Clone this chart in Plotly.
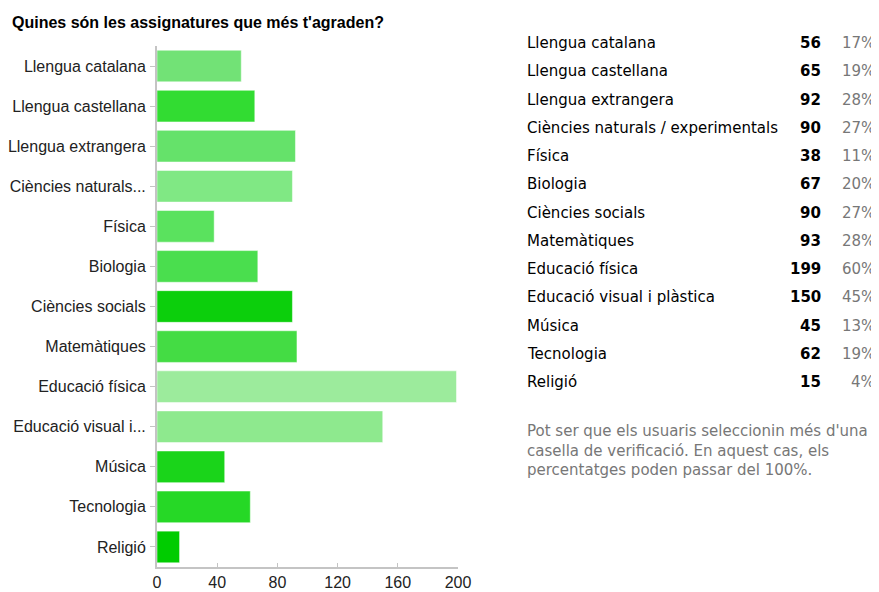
import plotly.graph_objects as go

# Dades
assignatures = ["Llengua catalana", "Llengua castellana", "Llengua extrangera",
                "Ciències naturals / experimentals", "Física", "Biologia",
                "Ciències socials", "Matemàtiques", "Educació física",
                "Educació visual i plàstica", "Música", "Tecnologia", "Religió"]
etiquetes = ["Llengua catalana", "Llengua castellana", "Llengua extrangera",
             "Ciències naturals...", "Física", "Biologia", "Ciències socials",
             "Matemàtiques", "Educació física", "Educació visual i...",
             "Música", "Tecnologia", "Religió"]
vots = [56, 65, 92, 90, 38, 67, 90, 93, 199, 150, 45, 62, 15]
percentatges = ["17%", "19%", "28%", "27%", "11%", "20%", "27%", "28%",
                "60%", "45%", "13%", "19%", "4%"]
colors = ["#72e276", "#32dc32", "#65e26a", "#80e884", "#5ae25e", "#4ade4e",
          "#0ccf0c", "#44dc44", "#9ceb9c", "#8ee98e", "#1ad41a", "#26d826",
          "#00cc00"]

FONT = "Liberation Sans"
FONT_TAULA = "DejaVu Sans"

fig = go.Figure()

# Barres
fig.add_trace(go.Bar(x=vots, y=etiquetes, orientation="h",
                     marker=dict(color=colors, line=dict(color="rgba(255,255,255,0.5)", width=1)),
                     width=0.79, showlegend=False, hoverinfo="x+y"))

# la pàgina té 8 px de marge al body
fig.update_layout(
    width=871, height=584,
    margin=dict(l=149, r=0, t=20, b=25),
    plot_bgcolor="white", paper_bgcolor="white",
    font=dict(family=FONT, size=16, color="#222222"),
    xaxis=dict(domain=[0, 301 / 722], range=[0, 200], tickvals=[0, 40, 80, 120, 160, 200],
               showgrid=False, zeroline=False, showline=True, linecolor="#c4c4c4", linewidth=2,
               ticks="inside", ticklen=4, tickcolor="#c4c4c4", automargin=False,
               tickfont=dict(size=16, color="#222222")),
    yaxis=dict(domain=[0, 521 / 539], autorange="reversed", showgrid=False, zeroline=False,
               showline=True, linecolor="#c4c4c4", linewidth=2, ticks="outside", ticklen=5,
               tickcolor="#c4c4c4", automargin=False, ticklabelstandoff=1,
               tickfont=dict(size=16, color="#222222")),
    xaxis2=dict(domain=[(510 - 157) / 722, 1], range=[510, 879], visible=False),
    yaxis2=dict(anchor="x2", range=[18.549, -0.531], visible=False),
)

# Títol
fig.add_annotation(text="<b>Quines són les assignatures que més t'agraden?</b>",
                   xref="paper", yref="paper", x=-147 / 722, y=544 / 539,
                   xanchor="left", yanchor="middle", showarrow=False,
                   font=dict(family=FONT, size=16, color="#000000"))

# Taula de resultats
fig.add_trace(go.Scatter(x=[None], y=[None], xaxis="x2", yaxis="y2", showlegend=False))
for i, (nom, n, p) in enumerate(zip(assignatures, vots, percentatges)):
    fig.add_annotation(text=nom, xref="x2", yref="y2", x=525, y=i, xanchor="left",
                       yanchor="middle", showarrow=False,
                       font=dict(family=FONT_TAULA, size=15, color="#000000"))
    fig.add_annotation(text="<b>%d</b>" % n, xref="x2", yref="y2", x=823, y=i,
                       xanchor="right", yanchor="middle", showarrow=False,
                       font=dict(family=FONT_TAULA, size=15, color="#000000"))
    fig.add_annotation(text=p, xref="x2", yref="y2", x=877, y=i,
                       xanchor="right", yanchor="middle", showarrow=False,
                       font=dict(family=FONT_TAULA, size=15, color="#777777"))

fig.add_annotation(text="Pot ser que els usuaris seleccionin més d'una<br>"
                        "casella de verificació. En aquest cas, els<br>"
                        "percentatges poden passar del 100%.",
                   xref="x2", yref="y2", x=525, y=13.35, xanchor="left", yanchor="top",
                   align="left", showarrow=False,
                   font=dict(family=FONT_TAULA, size=15, color="#777777"))

fig.write_html("out.html")
